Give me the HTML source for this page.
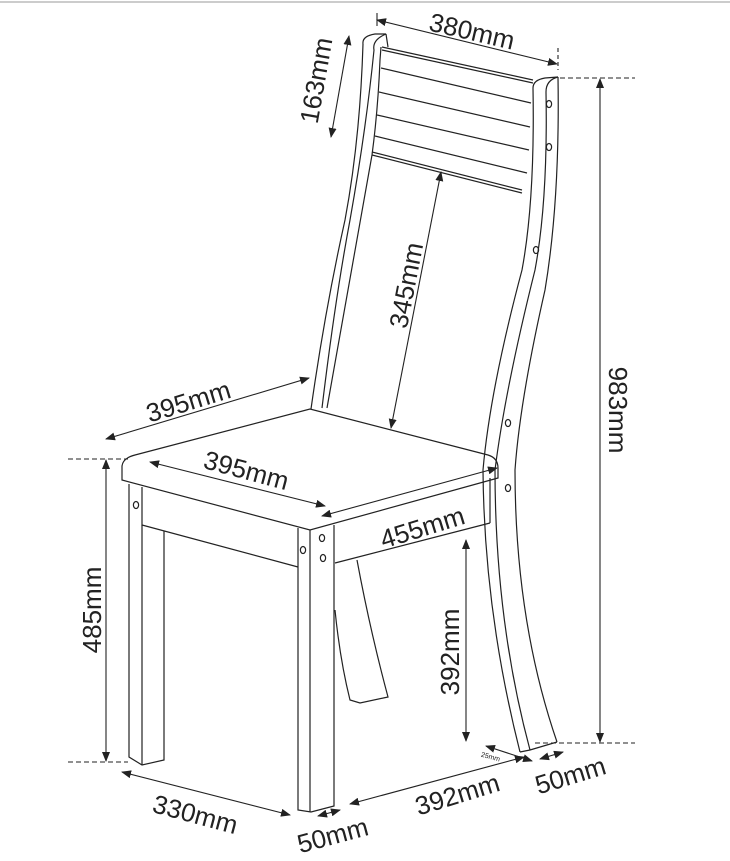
<!DOCTYPE html>
<html><head><meta charset="utf-8"><style>
html,body{margin:0;padding:0;background:#fff;}
svg{display:block;}
text{font-family:"Liberation Sans",Arial,sans-serif;fill:#222;}
</style></head><body>
<svg width="730" height="861" viewBox="0 0 730 861" xmlns="http://www.w3.org/2000/svg">
<defs>
<marker id="a" markerWidth="10" markerHeight="8" refX="9" refY="4" orient="auto-start-reverse" markerUnits="userSpaceOnUse"><path d="M0,0 L10,4 L0,8 z" fill="#222"/></marker>
</defs>
<line x1="0" y1="2" x2="730" y2="2" stroke="#ccc" stroke-width="2"/>
<g fill="none" stroke="#222" stroke-width="1.2">
<path d="M363,44 Q362,36 375,34 L386,34 Q372,40 374,50 Q366,130 350,220 Q335,300 322,408"/>
<path d="M363,44 Q360,140 345,220 Q325,310 311,409"/>
<path d="M381,47 L380,60 Q378,110 372,155 Q350,280 327,408"/>
<path d="M386,34 L388,47"/>
<path d="M382,47 L533,80"/>
<path d="M382,50 L533,83"/>
<path d="M381,68 L531,103"/>
<path d="M379,92 L530,127"/>
<path d="M377,115 L529,150"/>
<path d="M375,136 L527,173"/>
<path d="M372,152 L522,190"/>
<path d="M372,155 L522,193"/>
<path d="M533,88 Q533,80 545,78 L558,77 Q546,80 546,92 Q548,200 535,270 Q505,390 495,470 Q495,620 530,750"/>
<path d="M533,88 Q535,200 522,270 Q490,390 483,470 Q484,610 520,752"/>
<path d="M558,77 Q560,200 545,290 Q520,400 515,470 Q515,620 557,742"/>
<path d="M520,752 L530,750 L557,742"/>
<path d="M122,480 L122,466 Q123,458 135,455 L310,409 L488,455 Q498,458 498,468 L498,478 L310,530 Z"/>
<path d="M310,530 L310,812"/>
<path d="M142,487 L142,525 L298,567"/>
<path d="M335,563 L490,523"/>
<path d="M129,484 L129,757 L142,765 L164,760 L164,531"/>
<path d="M142,525 L142,765"/>
<path d="M298,528 L298,810 L311,812 L334,806 L334,525"/>
<path d="M335,610 Q340,660 350,700 L360,703 L388,697 Q370,630 357,560"/>
<path d="M490,523 L490,478"/>
</g>
<g fill="none" stroke="#222" stroke-width="1.2">
<ellipse cx="549" cy="104" rx="2.6" ry="3.5"/>
<ellipse cx="549" cy="147" rx="2.6" ry="3.5"/>
<ellipse cx="536" cy="250" rx="2.6" ry="3.5"/>
<ellipse cx="508" cy="423" rx="2.6" ry="3.5"/>
<ellipse cx="508" cy="488" rx="2.6" ry="3.5"/>
<ellipse cx="136" cy="505" rx="2.6" ry="3.5"/>
<ellipse cx="303" cy="550" rx="2.6" ry="3.5"/>
<ellipse cx="322" cy="538" rx="2.6" ry="3.5"/>
<ellipse cx="323" cy="558" rx="2.6" ry="3.5"/>
</g>
<g fill="none" stroke="#222" stroke-width="1.1">
<line x1="377" y1="20" x2="557" y2="64" marker-start="url(#a)" marker-end="url(#a)"/>
<line x1="377" y1="13" x2="377" y2="26"/>
<line x1="558" y1="48" x2="558" y2="70" stroke-dasharray="4,3"/>
<line x1="349" y1="36" x2="331" y2="137" marker-start="url(#a)" marker-end="url(#a)"/>
<line x1="600" y1="79" x2="600" y2="742" marker-start="url(#a)" marker-end="url(#a)"/>
<line x1="560" y1="78" x2="635" y2="78" stroke-dasharray="5,3"/>
<line x1="535" y1="743" x2="635" y2="743" stroke-dasharray="5,3"/>
<line x1="441" y1="172" x2="391" y2="428" marker-start="url(#a)" marker-end="url(#a)"/>
<line x1="106" y1="439" x2="309" y2="378" marker-start="url(#a)" marker-end="url(#a)"/>
<line x1="150" y1="462" x2="325" y2="506" marker-start="url(#a)" marker-end="url(#a)"/>
<line x1="322" y1="516" x2="497" y2="468" marker-start="url(#a)" marker-end="url(#a)"/>
<line x1="106" y1="460" x2="106" y2="761" marker-start="url(#a)" marker-end="url(#a)"/>
<line x1="68" y1="459" x2="128" y2="459" stroke-dasharray="5,3"/>
<line x1="68" y1="762" x2="128" y2="762" stroke-dasharray="5,3"/>
<line x1="466" y1="540" x2="466" y2="741" marker-start="url(#a)" marker-end="url(#a)"/>
<line x1="122" y1="772" x2="290" y2="815" marker-start="url(#a)" marker-end="url(#a)"/>
<line x1="318" y1="816" x2="340" y2="810" marker-start="url(#a)" marker-end="url(#a)"/>
<line x1="350" y1="804" x2="524" y2="757" marker-start="url(#a)" marker-end="url(#a)"/>
<line x1="486" y1="746" x2="532" y2="761" marker-start="url(#a)" marker-end="url(#a)"/>
<line x1="540" y1="759" x2="563" y2="752" marker-start="url(#a)" marker-end="url(#a)"/>
</g>
<g font-size="26">
<text transform="translate(470,40) rotate(13)" text-anchor="middle">380mm</text>
<text transform="translate(325,82) rotate(-80)" text-anchor="middle">163mm</text>
<text transform="translate(609,410) rotate(90)" text-anchor="middle">983mm</text>
<text transform="translate(415,287) rotate(-79)" text-anchor="middle">345mm</text>
<text transform="translate(191,410) rotate(-17)" text-anchor="middle">395mm</text>
<text transform="translate(244,479) rotate(15)" text-anchor="middle">395mm</text>
<text transform="translate(425,536) rotate(-17)" text-anchor="middle">455mm</text>
<text transform="translate(101,610) rotate(-90)" text-anchor="middle">485mm</text>
<text transform="translate(459,652) rotate(-90)" text-anchor="middle">392mm</text>
<text transform="translate(193,823) rotate(15)" text-anchor="middle">330mm</text>
<text transform="translate(335,844) rotate(-15)" text-anchor="middle">50mm</text>
<text transform="translate(460,803) rotate(-17)" text-anchor="middle">392mm</text>
<text transform="translate(573,784) rotate(-17)" text-anchor="middle">50mm</text>
</g>
<text transform="translate(490,759) rotate(15)" font-size="7" text-anchor="middle">25mm</text>
</svg>
</body></html>
